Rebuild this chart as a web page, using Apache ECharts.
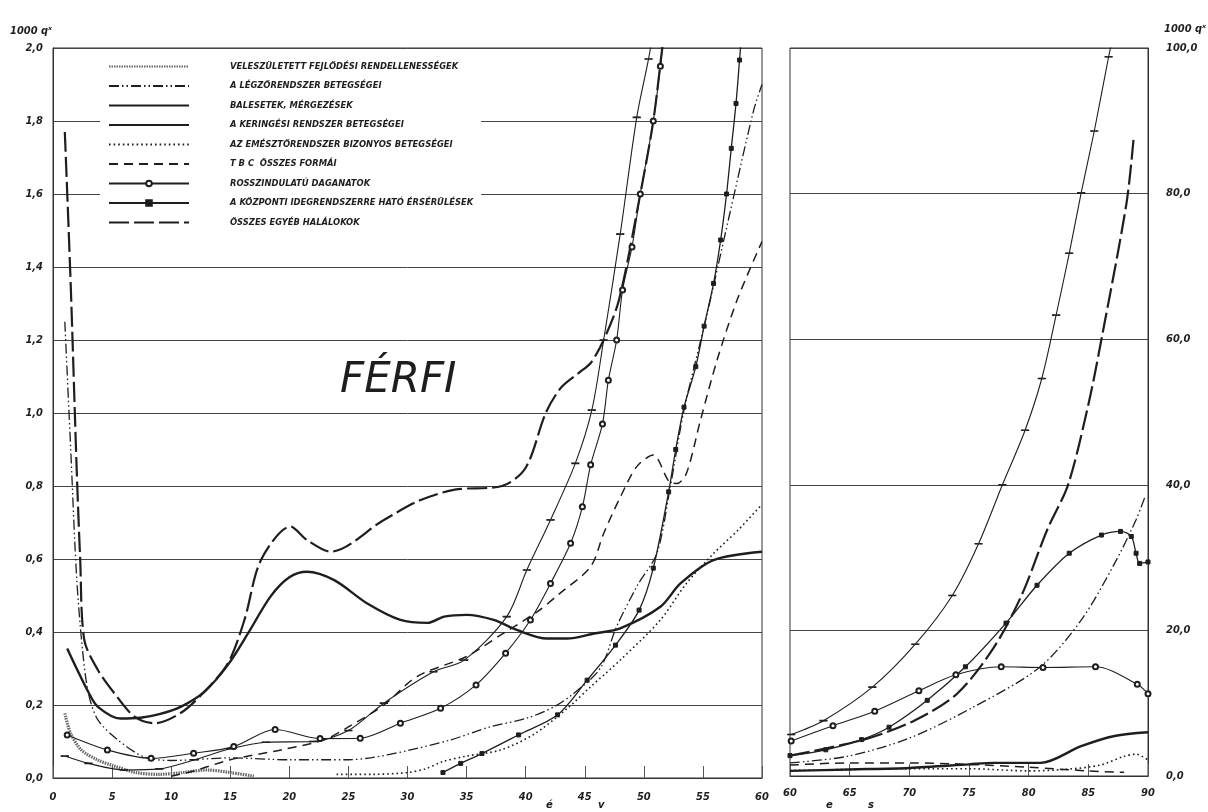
<!DOCTYPE html>
<html>
<head>
<meta charset="utf-8">
<script src="https://cdn.jsdelivr.net/npm/echarts@6/dist/echarts.min.js"></script>
<style>
  html, body { margin: 0; padding: 0; background: #fff; }
  #main { width: 1208px; height: 812px; }
</style>
</head>
<body>
<div id="main"></div>
<script>
// FÉRFI - 1000 qx by cause of death and age

var names = [
  'VELESZÜLETETT FEJLŐDÉSI RENDELLENESSÉGEK',
  'A LÉGZŐRENDSZER BETEGSÉGEI',
  'BALESETEK, MÉRGEZÉSEK',
  'A KERINGÉSI RENDSZER BETEGSÉGEI',
  'AZ EMÉSZTŐRENDSZER BIZONYOS BETEGSÉGEI',
  'T B C  ÖSSZES FORMÁI',
  'ROSSZINDULATÚ DAGANATOK',
  'A KÖZPONTI IDEGRENDSZERRE HATÓ ÉRSÉRÜLÉSEK',
  'ÖSSZES EGYÉB HALÁLOKOK'
];

// left panel: age 0-60, 1000qx 0-2.0   [age, value]
var congenitalL = [[1,0.177],[1.5,0.122],[2.4,0.077],[3.8,0.049],[5,0.035],[7,0.015],[9,0.01],[11,0.015],[13,0.022],[15,0.015],[17,0.005]];
var respiratoryL = [[1,1.25],[1.5,0.9],[2,0.55],[2.5,0.35],[3,0.232],[3.8,0.159],[5.5,0.104],[7.7,0.058],[10,0.048],[15,0.055],[20,0.05],[25,0.05],[27,0.056],[30,0.075],[33.6,0.104],[37,0.14],[40.1,0.164],[42.4,0.195],[44,0.23],[46.3,0.3],[47.7,0.415],[49.5,0.53],[51.1,0.615],[52.2,0.79],[53.4,1.008],[55.3,1.264],[57.3,1.55],[59.3,1.83],[60,1.9]];
var accidentsL = [[1.2,0.355],[2,0.3],[3,0.235],[3.8,0.195],[5.7,0.163],[7.4,0.165],[9,0.175],[10.8,0.195],[12.8,0.236],[14.8,0.31],[16.5,0.396],[18.4,0.497],[20,0.55],[21.5,0.565],[23.8,0.542],[26.6,0.478],[29.4,0.433],[31.7,0.425],[33.1,0.442],[35,0.447],[37.3,0.433],[39.3,0.405],[41.8,0.382],[43.5,0.382],[45.8,0.396],[48,0.41],[51.4,0.469],[53.1,0.533],[55.9,0.597],[60,0.62]];
var circulatoryL = [[1,0.06],[3,0.04],[6,0.022],[9,0.025],[12,0.05],[15,0.08],[18,0.098],[22,0.1],[25,0.13],[28,0.205],[32.2,0.291],[34.8,0.323],[38.4,0.442],[40.1,0.57],[42.1,0.707],[44.2,0.862],[45.6,1.008],[46.6,1.2],[48,1.49],[49.4,1.81],[50.4,1.97],[50.8,2.05]];
var digestiveL = [[24,0.01],[27,0.01],[30,0.015],[31.5,0.025],[33,0.045],[35,0.06],[37.9,0.077],[40.7,0.12],[43.5,0.19],[45.5,0.25],[48,0.323],[51.4,0.433],[53.6,0.533],[55.9,0.615],[58,0.68],[60,0.75]];
var tbcL = [[10,0.005],[12,0.02],[15,0.05],[19.3,0.077],[22.9,0.104],[25,0.14],[28,0.2],[30.8,0.278],[35,0.333],[37.9,0.392],[41,0.456],[42.9,0.506],[45.5,0.579],[46.6,0.67],[47.9,0.762],[49.4,0.853],[50.8,0.885],[52.2,0.81],[52.8,0.807],[53.6,0.834],[54.8,0.981],[56.2,1.145],[57.9,1.31],[60,1.47]];
var malignantL = [[1.2,0.118],[4.6,0.077],[8.3,0.054],[11.9,0.068],[15.3,0.086],[18.8,0.133],[22.6,0.108],[26,0.109],[29.4,0.15],[32.8,0.191],[35.8,0.255],[38.3,0.342],[40.4,0.433],[42.1,0.533],[43.8,0.643],[44.8,0.743],[45.5,0.858],[46.5,0.97],[47,1.09],[47.7,1.2],[48.2,1.337],[49,1.455],[49.7,1.6],[50.8,1.8],[51.4,1.95],[51.7,2.05]];
var cerebroL = [[33,0.015],[34.5,0.04],[36.3,0.067],[39.4,0.118],[42.7,0.173],[45.2,0.268],[47.6,0.364],[49.6,0.46],[50.8,0.575],[52.1,0.784],[52.7,0.9],[53.4,1.016],[54.4,1.127],[55.1,1.238],[55.9,1.355],[56.5,1.474],[57,1.6],[57.4,1.725],[57.8,1.848],[58.1,1.967],[58.3,2.05]];
var otherL = [[1,1.77],[1.5,1.35],[2,0.85],[2.3,0.6],[2.65,0.378],[3.8,0.296],[5.2,0.232],[6.9,0.168],[8.6,0.15],[10.8,0.178],[12.8,0.236],[14.8,0.314],[16.2,0.433],[17.6,0.597],[20.1,0.689],[21.5,0.652],[23.5,0.62],[28,0.707],[31,0.76],[34,0.79],[38,0.8],[40,0.85],[41.7,1.0],[43,1.07],[44.5,1.11],[45.5,1.137],[46.6,1.2],[47.9,1.31],[49.7,1.6],[50.8,1.8],[51.6,2.01],[52,2.1]];

// right panel: age 60-90, 1000qx 0-100
var respiratoryR = [[60,1.8],[64.8,2.7],[70,5.2],[75.4,9.5],[80.9,14.9],[84.4,21.4],[87.2,29.2],[89,35.2],[89.8,38.6]];
var accidentsR = [[60,0.7],[65,0.9],[70,1.1],[75,1.6],[77,1.8],[81,1.8],[84.4,4.1],[87.2,5.5],[90,6.0]];
var circulatoryR = [[60.1,5.7],[62.8,7.6],[66.9,12.2],[70.5,18.1],[73.6,24.8],[75.8,31.9],[77.8,40],[79.7,47.5],[81.1,54.6],[82.3,63.3],[83.4,71.8],[84.4,80.1],[85.5,88.6],[86.7,98.8],[87,101]];
var digestiveR = [[60,0.75],[65,0.9],[70,1.0],[75,1.0],[80,0.7],[83,0.9],[86,1.5],[88,2.7],[89,3.0],[90,2.2]];
var tbcR = [[60,1.5],[65,1.8],[70,1.8],[75,1.6],[80,1.2],[85,0.7],[88,0.5]];
var malignantR = [[60.1,4.8],[63.6,6.9],[67.1,8.9],[70.8,11.7],[73.9,13.9],[77.7,15],[81.2,14.9],[85.6,15],[89.1,12.6],[90,11.3]];
var cerebroR = [[60,2.8],[63,3.6],[66,5],[68.3,6.7],[71.5,10.4],[74.7,15],[78.1,21],[80.7,26.2],[83.4,30.6],[86.1,33.1],[87.7,33.6],[88.6,32.9],[89,30.6],[89.3,29.2],[90,29.4]];
var otherR = [[60,2.8],[66.2,5],[70.4,7.6],[74,11.3],[77.1,17.7],[79.4,24.8],[81.6,34],[83.3,40],[85,51],[86.1,60],[88.2,78.7],[88.8,87.7]];

var leftTicks = [0, 60, 5];
var rightTicks = [60, 90, 5];

var ink = '#1e1e1e';

// line look per cause
var looks = [
  { width: 3.2, color: '#666', type: [1.5, 1] },
  { width: 1.3, color: ink, type: [10, 3, 1.5, 3, 1.5, 3] },
  { width: 2.4, color: ink, type: 'solid' },
  { width: 1.1, color: ink, type: 'solid', symbol: 'rect', size: [6, 1.2] },
  { width: 1.6, color: ink, type: [1.6, 3] },
  { width: 1.5, color: ink, type: [9, 6] },
  { width: 1.1, color: ink, type: 'solid', symbol: 'emptyCircle', size: 5 },
  { width: 1.3, color: ink, type: 'solid', symbol: 'rect', size: [4, 4] },
  { width: 2.2, color: ink, type: [20, 5] }
];

function fmt(v) { return v.toFixed(1).replace('.', ','); }

function makeSeries(idx, data, side) {
  var lk = looks[idx];
  return {
    name: names[idx],
    type: 'line',
    xAxisIndex: side,
    yAxisIndex: side,
    data: data,
    smooth: 0.3,
    showSymbol: !!lk.symbol,
    showAllSymbol: true,
    symbol: lk.symbol || 'none',
    symbolSize: lk.size || 4,
    itemStyle: { color: ink, borderColor: ink, borderWidth: 1 },
    lineStyle: { width: lk.width, color: lk.color, type: lk.type },
    animation: false
  };
}

var leftData = [congenitalL, respiratoryL, accidentsL, circulatoryL, digestiveL, tbcL, malignantL, cerebroL, otherL];
var rightData = [null, respiratoryR, accidentsR, circulatoryR, digestiveR, tbcR, malignantR, cerebroR, otherR];

var series = [];
leftData.forEach(function (d, i) { series.push(makeSeries(i, d, 0)); });
rightData.forEach(function (d, i) { if (d) series.push(makeSeries(i, d, 1)); });

// legend entries: hide the default circle on plain lines
var hidden = { color: 'rgba(0,0,0,0)', borderColor: 'rgba(0,0,0,0)', opacity: 0 };
var legendData = names.map(function (n, i) {
  if (i === 6) return { name: n, itemStyle: { color: ink, borderColor: ink } };
  if (i === 7) return { name: n };
  return { name: n, itemStyle: hidden };
});

var labelFont = { color: ink, fontSize: 11, fontStyle: 'italic', fontWeight: 'bold', fontFamily: 'DejaVu Sans Condensed' };

var myChart = echarts.init(document.getElementById('main'));

myChart.setOption({
  backgroundColor: '#fff',
  animation: false,
  legend: {
    data: legendData,
    orient: 'vertical',
    left: 100,
    top: 58,
    itemWidth: 80,
    itemHeight: 7,
    itemGap: 10.5,
    padding: [4, 8, 4, 8],
    backgroundColor: '#fff',
    selectedMode: false,
    textStyle: { color: ink, fontSize: 9.3, fontStyle: 'italic', fontWeight: 'bold', fontFamily: 'DejaVu Sans Condensed', padding: [0, 0, 0, 36] }
  },
  grid: [
    { left: 53, right: 446, top: 48, bottom: 34, show: true, borderColor: '#333', borderWidth: 1 },
    { left: 790, right: 60, top: 48, bottom: 36, show: true, borderColor: '#333', borderWidth: 1 }
  ],
  xAxis: [
    { type: 'value', gridIndex: 0, min: leftTicks[0], max: leftTicks[1], interval: leftTicks[2],
      axisLine: { lineStyle: { color: '#333' } },
      axisTick: { inside: true, length: 12, lineStyle: { color: '#555' } },
      axisLabel: Object.assign({ margin: 14, fontSize: 12 }, labelFont),
      splitLine: { show: false } },
    { type: 'value', gridIndex: 1, min: rightTicks[0], max: rightTicks[1], interval: rightTicks[2],
      axisLine: { lineStyle: { color: '#333' } },
      axisTick: { inside: true, length: 12, lineStyle: { color: '#555' } },
      axisLabel: Object.assign({ margin: 12, fontSize: 12 }, labelFont),
      splitLine: { show: false } }
  ],
  yAxis: [
    { type: 'value', gridIndex: 0, min: 0, max: 2, interval: 0.2,
      axisLine: { show: true, lineStyle: { color: '#333' } },
      axisTick: { show: false },
      axisLabel: Object.assign({ margin: 10, formatter: fmt }, labelFont),
      splitLine: { lineStyle: { color: '#444', width: 1 } } },
    { type: 'value', gridIndex: 1, min: 0, max: 100, interval: 20, position: 'right',
      axisLine: { show: true, lineStyle: { color: '#333' } },
      axisTick: { show: false },
      axisLabel: Object.assign({ margin: 18, formatter: fmt }, labelFont),
      splitLine: { lineStyle: { color: '#444', width: 1 } } }
  ],
  graphic: [
    { type: 'text', left: 10, top: 26, style: { text: '1000 qˣ', fill: ink, font: 'italic bold 11px "DejaVu Sans Condensed"' } },
    { type: 'text', left: 1164, top: 24, style: { text: '1000 qˣ', fill: ink, font: 'italic bold 11px "DejaVu Sans Condensed"' } },
    { type: 'text', left: 340, top: 360, style: { text: 'FÉRFI', fill: ink, font: 'italic 42px "DejaVu Sans"' } },
    { type: 'text', left: 546, top: 800, style: { text: 'é', fill: ink, font: 'italic bold 10px "DejaVu Sans"' } },
    { type: 'text', left: 598, top: 800, style: { text: 'v', fill: ink, font: 'italic bold 10px "DejaVu Sans"' } },
    { type: 'text', left: 826, top: 800, style: { text: 'e', fill: ink, font: 'italic bold 10px "DejaVu Sans"' } },
    { type: 'text', left: 868, top: 800, style: { text: 's', fill: ink, font: 'italic bold 10px "DejaVu Sans"' } }
  ],
  series: series
});
</script>
</body>
</html>
